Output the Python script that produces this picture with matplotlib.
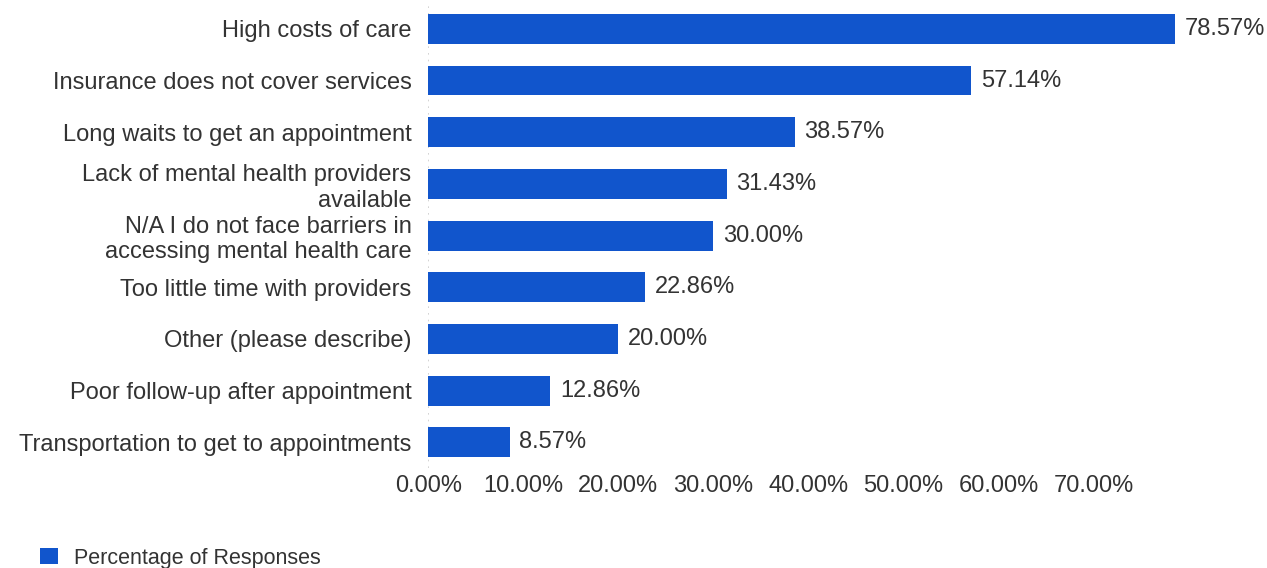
import matplotlib.pyplot as plt
from matplotlib.patches import Patch

plt.rcParams['font.family'] = ['Liberation Sans', 'DejaVu Sans']

categories = ["High costs of care",
              "Insurance does not cover services",
              "Long waits to get an appointment",
              "Lack of mental health providers\navailable",
              "N/A I do not face barriers in\naccessing mental health care",
              "Too little time with providers",
              "Other (please describe)",
              "Poor follow-up after appointment",
              "Transportation to get to appointments"]
values = [78.57, 57.14, 38.57, 31.43, 30.00, 22.86, 20.00, 12.86, 8.57]
xticks = [0, 10, 20, 30, 40, 50, 60, 70]
series_name = "Percentage of Responses"

blue = "#1155cc"
txt = "#333333"
fs = 17

fig = plt.figure(figsize=(12.67, 5.68), dpi=100)
ax = fig.add_axes([0.338, 0.176, 0.6, 0.8187])

y = list(range(len(categories)))
ax.barh(y, values, height=0.58, color=blue, zorder=2)
for yi, v in zip(y, values):
    ax.text(v + 1.0, yi, f"{v:.2f}%", va='center', ha='left', fontsize=fs, color=txt)

ax.set_xlim(0, 80)
ax.set_ylim(len(categories) - 0.5, -0.5)
ax.set_yticks(y)
ax.set_yticklabels(categories, fontsize=fs, color=txt, linespacing=1.2)
ax.set_xticks(xticks)
ax.set_xticklabels([f"{t:.2f}%" for t in xticks], fontsize=fs, color=txt)
ax.tick_params(length=0, axis='y', pad=12)
ax.tick_params(length=0, axis='x', pad=5)
for s in ax.spines.values():
    s.set_visible(False)
ax.axvline(0, color='#cccccc', linestyle=(0, (1, 3)), linewidth=1.2, zorder=1)

fig.legend(handles=[Patch(facecolor=blue, label=series_name)], loc='lower left',
           bbox_to_anchor=(0.0165, -0.035), frameon=False, fontsize=15.5,
           handlelength=0.8, handleheight=0.8, handletextpad=0.75, labelcolor='#333333')

fig.savefig("out.png", dpi=100)
